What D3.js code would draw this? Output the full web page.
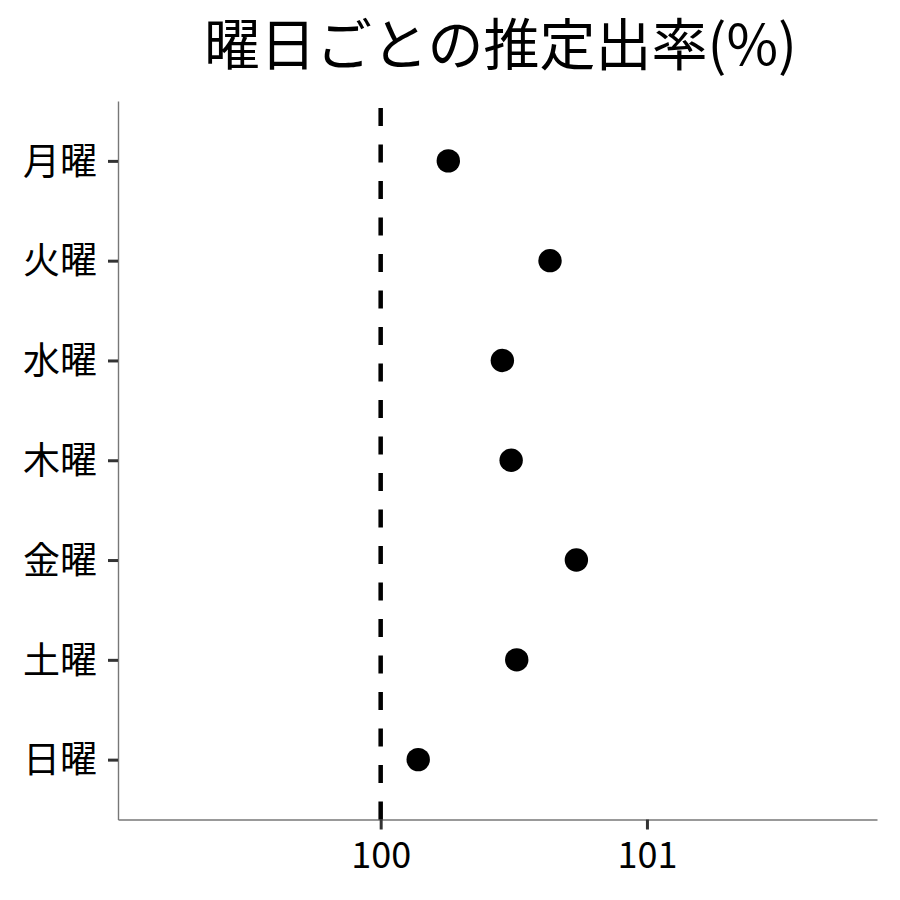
<!DOCTYPE html>
<html>
<head>
<meta charset="utf-8">
<script src="https://cdn.jsdelivr.net/npm/d3@7"></script>
<style>
  body { margin: 0; background: #fff; }
  text { font-family: "Noto Sans CJK JP", "Noto Sans", sans-serif; }
</style>
</head>
<body>
<div id="chart"></div>
<script>
// data
var days = ["月曜", "火曜", "水曜", "木曜", "金曜", "土曜", "日曜"];
var rates = [100.254, 100.636, 100.457, 100.490, 100.735, 100.511, 100.141];
var xTicks = [100, 101];
var refValue = 100;
var title = "曜日ごとの推定出率(%)";

var W = 900, H = 900;
var margin = {top: 101, right: 23, bottom: 80.5, left: 118};
var width = W - margin.left - margin.right,
    height = H - margin.top - margin.bottom;

var svg = d3.select("#chart")
  .append("svg")
    .attr("width", W)
    .attr("height", H);

var g = svg.append("g")
    .attr("transform", "translate(" + margin.left + "," + margin.top + ")");

// scales
var x = d3.scaleLinear()
    .domain([99.0135, 101.864])
    .range([0, width]);

var y = d3.scalePoint()
    .domain(days)
    .range([0, height])
    .padding(0.6);

// x axis
var xAxis = g.append("g")
    .attr("transform", "translate(0," + height + ")")
    .call(d3.axisBottom(x).tickValues(xTicks).tickFormat(d3.format("d")).tickSize(10).tickSizeOuter(0));
xAxis.select(".domain").attr("stroke", "#777").attr("stroke-width", 1.4);
xAxis.selectAll(".tick line").attr("stroke", "#333").attr("stroke-width", 3);
xAxis.selectAll(".tick text")
    .attr("fill", "#000")
    .attr("font-size", 36)
    .attr("dy", null)
    .attr("y", 48);

// y axis
var yAxis = g.append("g")
    .call(d3.axisLeft(y).tickSize(10).tickSizeOuter(0));
yAxis.select(".domain").attr("stroke", "#777").attr("stroke-width", 1.4);
yAxis.selectAll(".tick line").attr("stroke", "#333").attr("stroke-width", 3);
yAxis.selectAll(".tick text")
    .attr("fill", "#000")
    .attr("font-size", 37)
    .attr("x", -21)
    .attr("dy", "0.36em");

// reference line at 100, dash pattern starts at the bottom
g.append("line")
    .attr("x1", x(refValue))
    .attr("x2", x(refValue))
    .attr("y1", height)
    .attr("y2", 0)
    .attr("stroke", "#000")
    .attr("stroke-width", 4.5)
    .attr("stroke-dasharray", "18,18.5");

// points
g.selectAll("circle.pt")
    .data(days)
    .enter()
    .append("circle")
      .attr("class", "pt")
      .attr("cx", function(d, i) { return x(rates[i]); })
      .attr("cy", function(d) { return y(d); })
      .attr("r", 11.7)
      .attr("fill", "#000");

// title
svg.append("text")
    .attr("x", margin.left + width / 2 + 3)
    .attr("y", 65)
    .attr("text-anchor", "middle")
    .attr("font-size", 56)
    .attr("fill", "#000")
    .text(title);
</script>
</body>
</html>
